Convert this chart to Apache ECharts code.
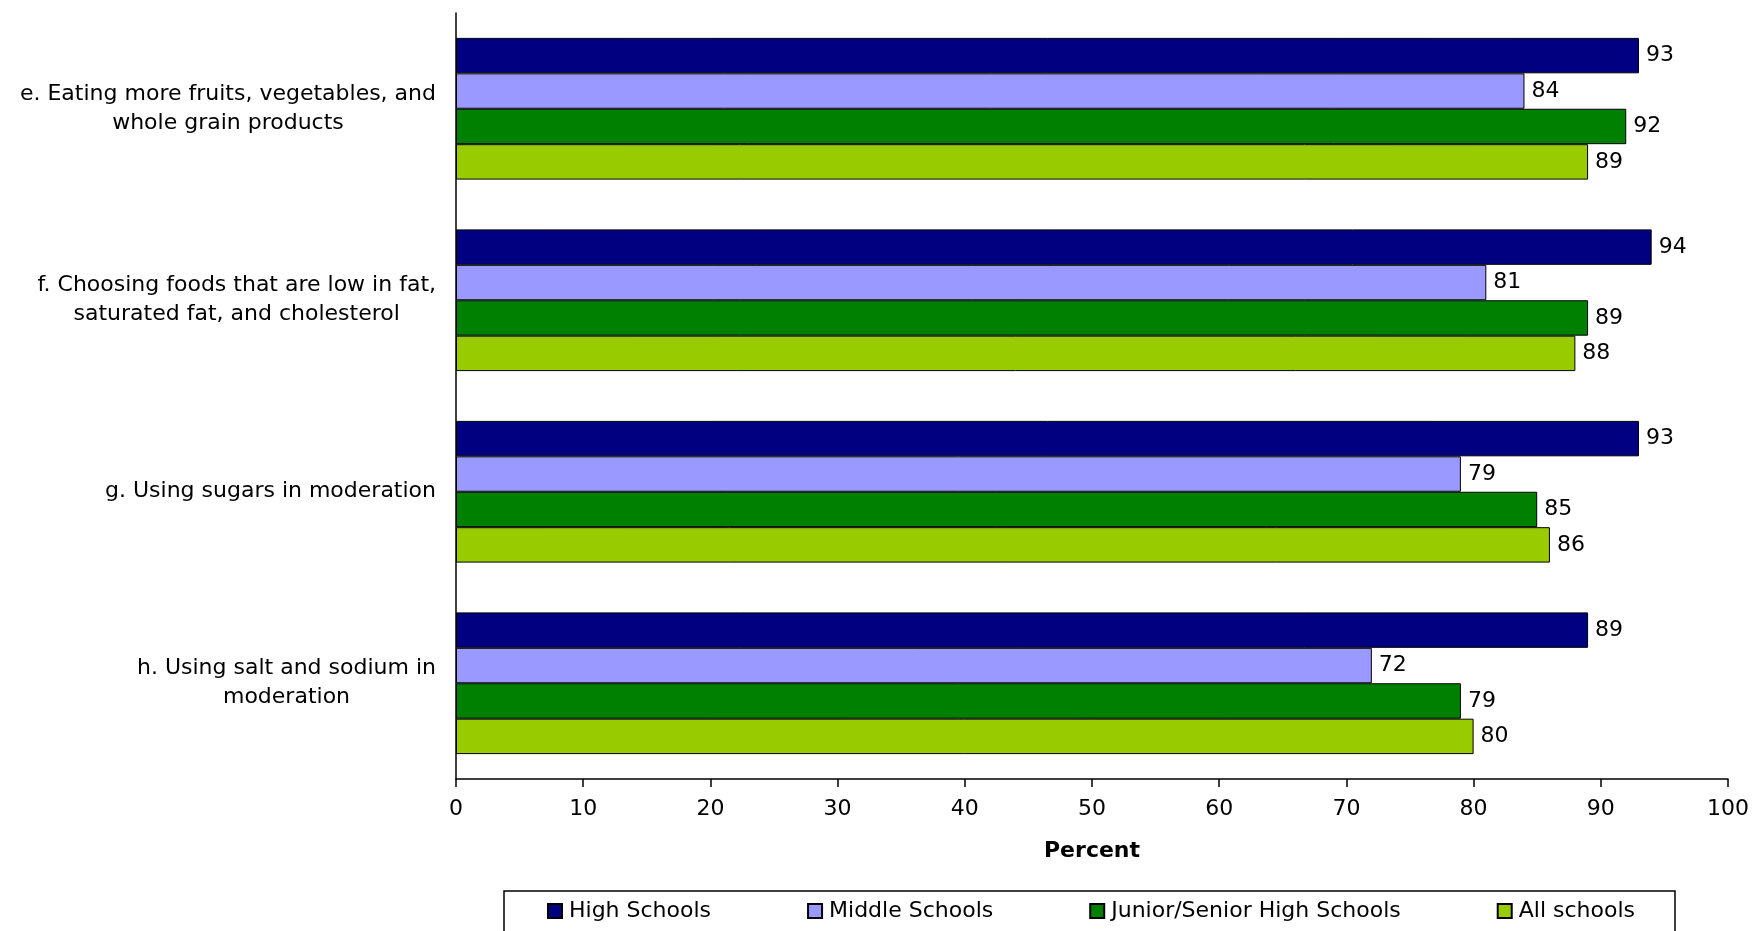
<!DOCTYPE html>
<html>
<head>
<meta charset="utf-8">
<script src="https://cdn.jsdelivr.net/npm/echarts@6/dist/echarts.min.js"></script>
<style>html,body{margin:0;padding:0;background:#fff;}#chart{width:1753px;height:931px;}</style>
</head>
<body>
<div id="chart"></div>
<script>
const categories = [
  "e. Eating more fruits, vegetables, and\nwhole grain products",
  "f. Choosing foods that are low in fat,\nsaturated fat, and cholesterol",
  "g. Using sugars in moderation",
  "h. Using salt and sodium in\nmoderation"
];
const seriesNames = ["High Schools", "Middle Schools", "Junior/Senior High Schools", "All schools"];
const highSchools = [93, 94, 93, 89];
const middleSchools = [84, 81, 79, 72];
const juniorSeniorHigh = [92, 89, 85, 79];
const allSchools = [89, 88, 86, 80];
const xTicks = [0, 10, 20, 30, 40, 50, 60, 70, 80, 90, 100];
const colors = ["#000080", "#9999FF", "#008000", "#99CC00"];

const FONT = "DejaVu Sans, sans-serif";
const FS = 22;
const valuesList = [highSchools, middleSchools, juniorSeniorHigh, allSchools];

const chart = echarts.init(document.getElementById('chart'), null, {renderer: 'canvas'});
chart.setOption({
  backgroundColor: '#fff',
  animation: false,
  grid: {left: 456, right: 25, top: 13, bottom: 152, containLabel: false},
  legend: {
    left: 504, top: 891,
    padding: [9, 40, 10, 43],
    itemGap: 96,
    itemWidth: 14, itemHeight: 14,
    borderColor: '#000', borderWidth: 1.5,
    icon: 'rect',
    textStyle: {fontFamily: FONT, fontSize: FS, color: '#000', padding: [0, 0, 0, 2]},
    data: seriesNames
  },
  xAxis: {
    type: 'value', min: xTicks[0], max: xTicks[xTicks.length - 1], interval: 10,
    axisLine: {show: true, lineStyle: {color: '#000', width: 1.5}},
    axisTick: {show: true, length: 8, lineStyle: {color: '#000', width: 1.5}},
    splitLine: {show: false},
    axisLabel: {fontFamily: FONT, fontSize: FS, color: '#000', margin: 19},
    name: 'Percent', nameLocation: 'middle', nameGap: 61,
    nameTextStyle: {fontFamily: FONT, fontSize: FS, fontWeight: 'bold', color: '#000'}
  },
  yAxis: {
    type: 'category', inverse: true, data: categories,
    axisLine: {show: true, lineStyle: {color: '#000', width: 1.5}},
    axisTick: {show: false},
    axisLabel: {
      fontFamily: FONT, fontSize: FS, color: '#000', margin: 20, align: 'right', lineHeight: 29,
      formatter: function (v) {
        return v.split('\n').map(function (l) { return '{c|' + l + '}'; }).join('\n');
      },
      rich: {c: {align: 'center', fontFamily: FONT, fontSize: FS, color: '#000', lineHeight: 29}}
    }
  },
  series: seriesNames.map(function (name, i) {
    return {
      name: name, type: 'bar', data: valuesList[i],
      barGap: '0%', barCategoryGap: '26%',
      itemStyle: {color: colors[i], borderColor: '#000', borderWidth: 1},
      label: {show: true, position: 'right', distance: 7, fontFamily: FONT, fontSize: FS, color: '#000'}
    };
  })
});
</script>
</body>
</html>
